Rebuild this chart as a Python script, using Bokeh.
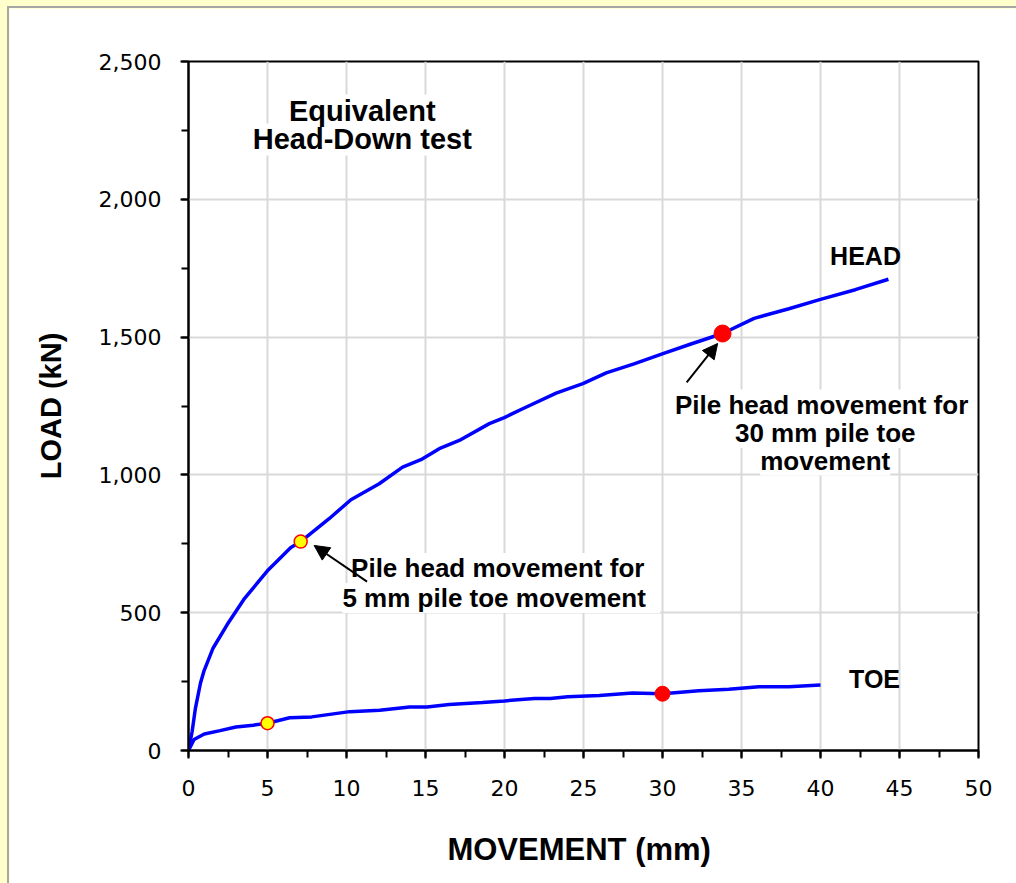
from bokeh.plotting import figure
from bokeh.models import (Range1d, Label, Arrow, NormalHead, SingleIntervalTicker,
                          NumeralTickFormatter)
from bokeh.layouts import column
from bokeh.embed import file_html
from bokeh.resources import INLINE

# Load-movement curves (movement in mm, load in kN)
head_mm = [0, 0.23, 0.44, 0.76, 0.97, 1.56, 2.45, 3.5, 4.98, 6.46, 7.1, 8.9, 10.28,
           12.07, 13.55, 14.71, 15.87, 17.14, 19.04, 19.99, 21.15, 23.27, 24.96,
           26.44, 28.2, 30.03, 31.8, 33.8, 35.8, 38.0, 40.0, 42.2, 44.3]
head_kn = [0, 69, 154, 245, 287, 372, 457, 548, 651, 736, 758, 841, 910,
           968, 1028, 1055, 1095, 1125, 1186, 1208, 1240, 1297, 1331,
           1370, 1403, 1440, 1475, 1513, 1568, 1603, 1637, 1672, 1710]

toe_mm = [0, 0.35, 1.0, 2.0, 3.0, 4.1, 5.0, 6.4, 7.8, 10.2, 12.1, 14.0, 15.1,
          16.5, 18.6, 20.0, 21.9, 22.9, 24.0, 26.0, 28.1, 30.0, 32.3, 34.2,
          36.1, 38.0, 40.0]
toe_kn = [0, 40, 60, 72, 85, 92, 99, 119, 122, 141, 146, 158, 158,
          167, 174, 180, 189, 189, 195, 200, 209, 206, 217, 222,
          231, 231, 238]

# Points for 5 mm and 30 mm of toe movement, and the matching head points
toe_pts_mm = [5.0, 30.0]
toe_pts_kn = [99, 206]
head_pts_mm = [7.1, 33.8]
head_pts_kn = [758, 1513]

BOLD = "Liberation Sans"
TICKF = "DejaVu Sans"

p = figure(width=1007, height=875,
           x_range=Range1d(0, 50), y_range=Range1d(0, 2500),
           output_backend="svg", toolbar_location=None,
           min_border_left=179, min_border_right=38,
           min_border_top=53, min_border_bottom=133,
           border_fill_color="white", background_fill_color="white",
           outline_line_color="black", outline_line_width=2)

p.xaxis.ticker = SingleIntervalTicker(interval=5, num_minor_ticks=2)
p.yaxis.ticker = SingleIntervalTicker(interval=500, num_minor_ticks=2)
p.yaxis.formatter = NumeralTickFormatter(format="0,0")

for ax in (p.xaxis[0], p.yaxis[0]):
    ax.axis_line_color = "black"
    ax.axis_line_width = 2
    ax.major_tick_line_color = "black"
    ax.major_tick_line_width = 2
    ax.minor_tick_line_color = "black"
    ax.minor_tick_line_width = 2
    ax.major_tick_in = 0
    ax.major_tick_out = 8
    ax.minor_tick_in = 0
    ax.minor_tick_out = 7
    ax.major_label_text_font = TICKF
    ax.major_label_text_font_size = "22px"
    ax.major_label_text_color = "black"
    ax.axis_label_text_font = BOLD
    ax.axis_label_text_font_style = "bold"
    ax.axis_label_text_color = "black"

p.xaxis.axis_label = "MOVEMENT  (mm)"
p.xaxis.axis_label_text_font_size = "31px"
p.xaxis.major_label_standoff = 21
p.xaxis.axis_label_standoff = 33

p.yaxis.axis_label = "LOAD (kN)"
p.yaxis.axis_label_text_font_size = "29px"
p.yaxis.major_label_standoff = 19
p.yaxis.axis_label_standoff = 29

p.xgrid.ticker = SingleIntervalTicker(interval=5)
p.ygrid.ticker = SingleIntervalTicker(interval=500)
for g in (p.xgrid[0], p.ygrid[0]):
    g.grid_line_color = "#D9D9D9"
    g.grid_line_width = 2

# Curves
p.line(head_mm, head_kn, line_color="#0000FF", line_width=3.5)
p.line(toe_mm, toe_kn, line_color="#0000FF", line_width=3.5)

# Markers: yellow at 5 mm toe movement, red at 30 mm toe movement
p.scatter([toe_pts_mm[0], head_pts_mm[0]], [toe_pts_kn[0], head_pts_kn[0]],
          marker="circle", size=13, fill_color="#FFFF00",
          line_color="#FF0000", line_width=1.5)
p.scatter([toe_pts_mm[1]], [toe_pts_kn[1]], marker="circle", size=15,
          fill_color="#FF0000", line_color="#FF0000")
p.scatter([head_pts_mm[1]], [head_pts_kn[1]], marker="circle", size=17,
          fill_color="#FF0000", line_color="#FF0000")


def note(x, y, text, size="26px", bg=True):
    lab = Label(x=x, y=y, text=text, text_font=BOLD, text_font_style="bold",
                text_font_size=size, text_color="black",
                text_align="center", text_baseline="middle")
    if bg:
        lab.background_fill_color = "white"
    p.add_layout(lab)


# Lower lines first so the line above is drawn over their white boxes
note(11.0, 2217, "Head-Down test", size="29px")
note(11.0, 2322, "Equivalent", size="29px")
note(42.85, 1796, "HEAD", size="25px", bg=False)
note(43.42, 258, "TOE", size="25px", bg=False)
note(19.8, 553, "5 mm  pile toe  movement")
note(19.8, 662, "Pile head movement  for")
note(40.3, 1052, "movement")
note(40.3, 1152, "30 mm pile toe")
note(40.3, 1255, "Pile head movement  for")

# Arrows pointing at the head markers
p.add_layout(Arrow(end=NormalHead(size=15, fill_color="black", line_color="black"),
                   x_start=head_pts_mm[0] + 4.2, y_start=head_pts_kn[0] - 145,
                   x_end=head_pts_mm[0] + 0.85, y_end=head_pts_kn[0] - 14,
                   line_color="black", line_width=2))
p.add_layout(Arrow(end=NormalHead(size=15, fill_color="black", line_color="black"),
                   x_start=head_pts_mm[1] - 2.27, y_start=head_pts_kn[1] - 177,
                   x_end=head_pts_mm[1] - 0.31, y_end=head_pts_kn[1] - 36,
                   line_color="black", line_width=2))

page = column(p, styles={"background-color": "#FFFFCC",
                         "padding-left": "9px", "padding-top": "8px"})
p.styles = {"outline": "2px solid #A6A6A6"}

open("out.html", "w").write(file_html(page, INLINE))
